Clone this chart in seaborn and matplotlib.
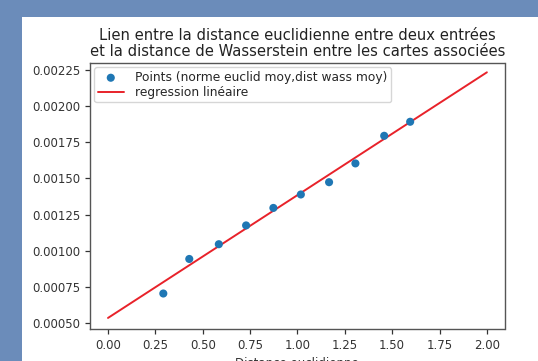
import matplotlib
matplotlib.use("Agg")
import matplotlib.pyplot as plt
import seaborn as sns
import pandas as pd
from matplotlib.patches import Rectangle

# Data
norme_euclid = [0.292, 0.429, 0.585, 0.729, 0.873, 1.018, 1.167, 1.306, 1.458, 1.595]
dist_wass = [0.000704, 0.000943, 0.001045, 0.001175, 0.001296, 0.001389,
             0.001474, 0.001604, 0.001795, 0.001892]
reg_x = [0.0, 2.0]
reg_y = [0.000535, 0.002234]
x_ticks = [0.00, 0.25, 0.50, 0.75, 1.00, 1.25, 1.50, 1.75, 2.00]
y_ticks = [0.00050, 0.00075, 0.00100, 0.00125, 0.00150, 0.00175, 0.00200, 0.00225]

title = ("Lien entre la distance euclidienne entre deux entrées\n"
         "et la distance de Wasserstein entre les cartes associées")

sns.set_style("ticks")
plt.rcParams["font.family"] = ["DejaVu Sans"]

W, H = 538, 361
fig = plt.figure(figsize=(W / 100, H / 100), dpi=100, facecolor="#6b8cba")
fig.patches.append(Rectangle((22 / W, 0), 1 - 22 / W, (H - 17) / H,
                             transform=fig.transFigure, facecolor="white",
                             edgecolor="none", zorder=-10))

ax = fig.add_axes([90 / W, (H - 329) / H, (504.5 - 90) / W, (329 - 63) / H])
ax.set_facecolor("white")

df_pts = pd.DataFrame({"x": norme_euclid, "y": dist_wass})
df_reg = pd.DataFrame({"x": reg_x, "y": reg_y})

sns.scatterplot(data=df_pts, x="x", y="y", ax=ax, color="#1f77b4", s=34,
                edgecolor="none", label="Points (norme euclid moy,dist wass moy)",
                zorder=3)
sns.lineplot(data=df_reg, x="x", y="y", ax=ax, color="#e8222a", linewidth=1.4,
             label="regression linéaire", zorder=2)

ax.set_xlim(-0.095, 2.093)
ax.set_ylim(0.0004585, 0.0022985)
ax.set_xticks(x_ticks)
ax.set_xticklabels([f"{v:.2f}" for v in x_ticks])
ax.set_yticks(y_ticks)
ax.set_yticklabels([f"{v:.5f}" for v in y_ticks])
ax.tick_params(labelsize=8.5, colors="#333333", length=3.5, width=0.9)
for s in ax.spines.values():
    s.set_color("#555555")
    s.set_linewidth(1.0)
    s.set_visible(True)

ax.set_xlabel("Distance euclidienne", fontsize=8.5, color="#333333")
ax.set_ylabel("")
ax.set_title(title, fontsize=10.6, color="#222222", pad=5, linespacing=1.05)

leg = ax.legend(loc="upper left", fontsize=8.8, frameon=True,
                labelspacing=0.15, borderpad=0.3, handlelength=2.1,
                handletextpad=0.95, borderaxespad=0.35)
leg.get_frame().set_edgecolor("#cccccc")

fig.savefig("out.png", dpi=100, facecolor=fig.get_facecolor())
